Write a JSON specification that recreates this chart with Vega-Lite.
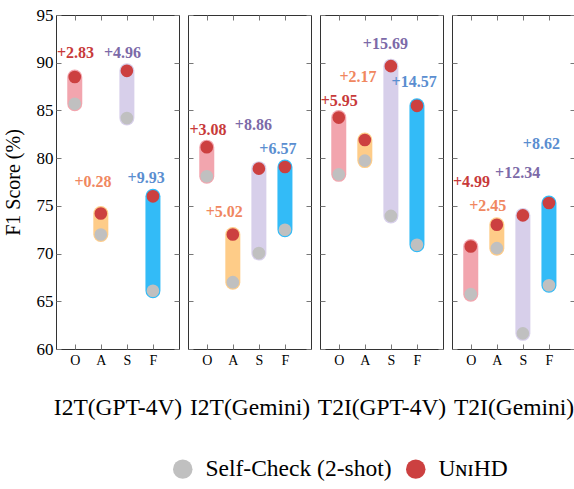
{
  "$schema": "https://vega.github.io/schema/vega-lite/v6.json",
  "padding": {"left": 2, "top": 5, "right": 0, "bottom": 5},
  "bounds": "flush",
  "datasets": {
    "pts": [
      {"panel": "I2T(GPT-4V)", "cat": "O", "idx": 0, "lo": 85.7, "hi": 88.5, "gain": 2.83, "lx": 0.03, "ly": 91.0},
      {"panel": "I2T(GPT-4V)", "cat": "A", "idx": 1, "lo": 72.0, "hi": 74.2, "gain": 0.28, "lx": 0.70, "ly": 77.5},
      {"panel": "I2T(GPT-4V)", "cat": "S", "idx": 2, "lo": 84.2, "hi": 89.15, "gain": 4.96, "lx": 1.83, "ly": 91.0},
      {"panel": "I2T(GPT-4V)", "cat": "F", "idx": 3, "lo": 66.1, "hi": 76.0, "gain": 9.93, "lx": 2.74, "ly": 77.9},
      {"panel": "I2T(Gemini)", "cat": "O", "idx": 0, "lo": 78.1, "hi": 81.15, "gain": 3.08, "lx": 0.05, "ly": 83.0},
      {"panel": "I2T(Gemini)", "cat": "A", "idx": 1, "lo": 67.0, "hi": 72.0, "gain": 5.02, "lx": 0.67, "ly": 74.4},
      {"panel": "I2T(Gemini)", "cat": "S", "idx": 2, "lo": 70.05, "hi": 78.9, "gain": 8.86, "lx": 1.79, "ly": 83.45},
      {"panel": "I2T(Gemini)", "cat": "F", "idx": 3, "lo": 72.5, "hi": 79.07, "gain": 6.57, "lx": 2.73, "ly": 81.0},
      {"panel": "T2I(GPT-4V)", "cat": "O", "idx": 0, "lo": 78.3, "hi": 84.25, "gain": 5.95, "lx": 0.02, "ly": 86.0},
      {"panel": "T2I(GPT-4V)", "cat": "A", "idx": 1, "lo": 79.74, "hi": 81.9, "gain": 2.17, "lx": 0.74, "ly": 88.5},
      {"panel": "T2I(GPT-4V)", "cat": "S", "idx": 2, "lo": 73.95, "hi": 89.64, "gain": 15.69, "lx": 1.79, "ly": 92.0},
      {"panel": "T2I(GPT-4V)", "cat": "F", "idx": 3, "lo": 70.92, "hi": 85.48, "gain": 14.57, "lx": 2.89, "ly": 88.0},
      {"panel": "T2I(Gemini)", "cat": "O", "idx": 0, "lo": 65.75, "hi": 70.74, "gain": 4.99, "lx": 0.03, "ly": 77.5},
      {"panel": "T2I(Gemini)", "cat": "A", "idx": 1, "lo": 70.57, "hi": 73.02, "gain": 2.45, "lx": 0.65, "ly": 75.0},
      {"panel": "T2I(Gemini)", "cat": "S", "idx": 2, "lo": 61.64, "hi": 74.0, "gain": 12.34, "lx": 1.80, "ly": 78.45},
      {"panel": "T2I(Gemini)", "cat": "F", "idx": 3, "lo": 66.68, "hi": 75.3, "gain": 8.62, "lx": 2.71, "ly": 81.45}
    ]
  },
  "data": {"name": "pts"},
  "spacing": 9,
  "hconcat": [
    {
      "width": 123, "height": 334,
      "transform": [{"filter": "datum.panel === 'I2T(GPT-4V)'"}],
      "resolve": {"axis": {"x": "independent", "y": "independent"}},
      "layer": [
        {"mark": {"type": "rule", "strokeWidth": 15, "strokeCap": "round"},
         "encoding": {
           "x": {"field": "idx", "type": "quantitative", "scale": {"domain": [-0.72, 4.0], "nice": false, "zero": false},
                 "axis": {"orient": "bottom", "values": [0, 1, 2, 3], "labelExpr": "['O','A','S','F'][datum.value]", "title": "I2T(GPT-4V)"}},
           "y": {"field": "lo", "type": "quantitative", "scale": {"domain": [60, 95], "nice": false, "zero": false},
                 "axis": {"orient": "left", "values": [60, 65, 70, 75, 80, 85, 90, 95], "labelFontSize": 17, "labelPadding": 3, "title": "F1 Score (%)", "titleFontSize": 20, "titlePadding": 13}},
           "y2": {"field": "hi"},
           "stroke": {"field": "cat", "type": "nominal", "scale": {"domain": ["O", "A", "S", "F"], "range": ["#f2a5ae", "#fecc88", "#d7cfea", "#33bbf7"]}, "legend": null}
         }},
        {"mark": {"type": "point", "filled": true, "size": 160, "opacity": 1, "strokeWidth": 0},
         "encoding": {
           "x": {"field": "idx", "type": "quantitative", "axis": null},
           "y": {"field": "lo", "type": "quantitative", "axis": null},
           "fill": {"datum": "Self-Check (2-shot)", "type": "nominal", "scale": {"domain": ["Self-Check (2-shot)", "UɴɪHD"], "range": ["#c0c0c0", "#cc4040"]}, "legend": {"title": null, "orient": "none", "legendX": 115, "legendY": 442, "direction": "horizontal", "symbolType": "circle", "symbolSize": 380, "labelFontSize": 23.5, "labelLimit": 400, "columnPadding": 12, "labelOffset": 11, "padding": 0, "symbolStrokeWidth": 0}}
         }},
        {"mark": {"type": "point", "filled": true, "size": 160, "opacity": 1, "strokeWidth": 0},
         "encoding": {
           "x": {"field": "idx", "type": "quantitative", "axis": null},
           "y": {"field": "hi", "type": "quantitative", "axis": null},
           "fill": {"datum": "UɴɪHD", "type": "nominal"}
         }},
        {"mark": {"type": "text", "fontWeight": "bold", "fontSize": 16, "baseline": "middle"},
         "encoding": {
           "x": {"field": "lx", "type": "quantitative", "axis": {"orient": "top", "values": [0, 1, 2, 3], "labels": false, "title": null}},
           "y": {"field": "ly", "type": "quantitative", "axis": {"orient": "right", "values": [60, 65, 70, 75, 80, 85, 90, 95], "labels": false, "title": null}},
           "text": {"field": "gain", "type": "quantitative", "format": "+.2f"},
           "color": {"field": "cat", "type": "nominal", "scale": {"domain": ["O", "A", "S", "F"], "range": ["#c83a3a", "#f0875f", "#7c6aa8", "#5a8ed0"]}, "legend": null}
         }}
      ]
    },
    {
      "width": 123, "height": 334,
      "transform": [{"filter": "datum.panel === 'I2T(Gemini)'"}],
      "resolve": {"axis": {"x": "independent", "y": "independent"}},
      "layer": [
        {"mark": {"type": "rule", "strokeWidth": 15, "strokeCap": "round"},
         "encoding": {
           "x": {"field": "idx", "type": "quantitative", "scale": {"domain": [-0.72, 4.0], "nice": false, "zero": false},
                 "axis": {"orient": "bottom", "values": [0, 1, 2, 3], "labelExpr": "['O','A','S','F'][datum.value]", "title": "I2T(Gemini)"}},
           "y": {"field": "lo", "type": "quantitative", "scale": {"domain": [60, 95], "nice": false, "zero": false},
                 "axis": {"orient": "left", "values": [60, 65, 70, 75, 80, 85, 90, 95], "labels": false, "title": null}},
           "y2": {"field": "hi"},
           "stroke": {"field": "cat", "type": "nominal", "scale": {"domain": ["O", "A", "S", "F"], "range": ["#f2a5ae", "#fecc88", "#d7cfea", "#33bbf7"]}, "legend": null}
         }},
        {"mark": {"type": "point", "filled": true, "size": 160, "opacity": 1, "strokeWidth": 0},
         "encoding": {
           "x": {"field": "idx", "type": "quantitative", "axis": null},
           "y": {"field": "lo", "type": "quantitative", "axis": null},
           "fill": {"datum": "Self-Check (2-shot)", "type": "nominal"}
         }},
        {"mark": {"type": "point", "filled": true, "size": 160, "opacity": 1, "strokeWidth": 0},
         "encoding": {
           "x": {"field": "idx", "type": "quantitative", "axis": null},
           "y": {"field": "hi", "type": "quantitative", "axis": null},
           "fill": {"datum": "UɴɪHD", "type": "nominal"}
         }},
        {"mark": {"type": "text", "fontWeight": "bold", "fontSize": 16, "baseline": "middle"},
         "encoding": {
           "x": {"field": "lx", "type": "quantitative", "axis": {"orient": "top", "values": [0, 1, 2, 3], "labels": false, "title": null}},
           "y": {"field": "ly", "type": "quantitative", "axis": {"orient": "right", "values": [60, 65, 70, 75, 80, 85, 90, 95], "labels": false, "title": null}},
           "text": {"field": "gain", "type": "quantitative", "format": "+.2f"},
           "color": {"field": "cat", "type": "nominal", "scale": {"domain": ["O", "A", "S", "F"], "range": ["#c83a3a", "#f0875f", "#7c6aa8", "#5a8ed0"]}, "legend": null}
         }}
      ]
    },
    {
      "width": 123, "height": 334,
      "transform": [{"filter": "datum.panel === 'T2I(GPT-4V)'"}],
      "resolve": {"axis": {"x": "independent", "y": "independent"}},
      "layer": [
        {"mark": {"type": "rule", "strokeWidth": 15, "strokeCap": "round"},
         "encoding": {
           "x": {"field": "idx", "type": "quantitative", "scale": {"domain": [-0.72, 4.0], "nice": false, "zero": false},
                 "axis": {"orient": "bottom", "values": [0, 1, 2, 3], "labelExpr": "['O','A','S','F'][datum.value]", "title": "T2I(GPT-4V)"}},
           "y": {"field": "lo", "type": "quantitative", "scale": {"domain": [60, 95], "nice": false, "zero": false},
                 "axis": {"orient": "left", "values": [60, 65, 70, 75, 80, 85, 90, 95], "labels": false, "title": null}},
           "y2": {"field": "hi"},
           "stroke": {"field": "cat", "type": "nominal", "scale": {"domain": ["O", "A", "S", "F"], "range": ["#f2a5ae", "#fecc88", "#d7cfea", "#33bbf7"]}, "legend": null}
         }},
        {"mark": {"type": "point", "filled": true, "size": 160, "opacity": 1, "strokeWidth": 0},
         "encoding": {
           "x": {"field": "idx", "type": "quantitative", "axis": null},
           "y": {"field": "lo", "type": "quantitative", "axis": null},
           "fill": {"datum": "Self-Check (2-shot)", "type": "nominal"}
         }},
        {"mark": {"type": "point", "filled": true, "size": 160, "opacity": 1, "strokeWidth": 0},
         "encoding": {
           "x": {"field": "idx", "type": "quantitative", "axis": null},
           "y": {"field": "hi", "type": "quantitative", "axis": null},
           "fill": {"datum": "UɴɪHD", "type": "nominal"}
         }},
        {"mark": {"type": "text", "fontWeight": "bold", "fontSize": 16, "baseline": "middle"},
         "encoding": {
           "x": {"field": "lx", "type": "quantitative", "axis": {"orient": "top", "values": [0, 1, 2, 3], "labels": false, "title": null}},
           "y": {"field": "ly", "type": "quantitative", "axis": {"orient": "right", "values": [60, 65, 70, 75, 80, 85, 90, 95], "labels": false, "title": null}},
           "text": {"field": "gain", "type": "quantitative", "format": "+.2f"},
           "color": {"field": "cat", "type": "nominal", "scale": {"domain": ["O", "A", "S", "F"], "range": ["#c83a3a", "#f0875f", "#7c6aa8", "#5a8ed0"]}, "legend": null}
         }}
      ]
    },
    {
      "width": 123, "height": 334,
      "transform": [{"filter": "datum.panel === 'T2I(Gemini)'"}],
      "resolve": {"axis": {"x": "independent", "y": "independent"}},
      "layer": [
        {"mark": {"type": "rule", "strokeWidth": 15, "strokeCap": "round"},
         "encoding": {
           "x": {"field": "idx", "type": "quantitative", "scale": {"domain": [-0.72, 4.0], "nice": false, "zero": false},
                 "axis": {"orient": "bottom", "values": [0, 1, 2, 3], "labelExpr": "['O','A','S','F'][datum.value]", "title": "T2I(Gemini)"}},
           "y": {"field": "lo", "type": "quantitative", "scale": {"domain": [60, 95], "nice": false, "zero": false},
                 "axis": {"orient": "left", "values": [60, 65, 70, 75, 80, 85, 90, 95], "labels": false, "title": null}},
           "y2": {"field": "hi"},
           "stroke": {"field": "cat", "type": "nominal", "scale": {"domain": ["O", "A", "S", "F"], "range": ["#f2a5ae", "#fecc88", "#d7cfea", "#33bbf7"]}, "legend": null}
         }},
        {"mark": {"type": "point", "filled": true, "size": 160, "opacity": 1, "strokeWidth": 0},
         "encoding": {
           "x": {"field": "idx", "type": "quantitative", "axis": null},
           "y": {"field": "lo", "type": "quantitative", "axis": null},
           "fill": {"datum": "Self-Check (2-shot)", "type": "nominal"}
         }},
        {"mark": {"type": "point", "filled": true, "size": 160, "opacity": 1, "strokeWidth": 0},
         "encoding": {
           "x": {"field": "idx", "type": "quantitative", "axis": null},
           "y": {"field": "hi", "type": "quantitative", "axis": null},
           "fill": {"datum": "UɴɪHD", "type": "nominal"}
         }},
        {"mark": {"type": "text", "fontWeight": "bold", "fontSize": 16, "baseline": "middle"},
         "encoding": {
           "x": {"field": "lx", "type": "quantitative", "axis": {"orient": "top", "values": [0, 1, 2, 3], "labels": false, "title": null}},
           "y": {"field": "ly", "type": "quantitative", "axis": {"orient": "right", "values": [60, 65, 70, 75, 80, 85, 90, 95], "labels": false, "title": null}},
           "text": {"field": "gain", "type": "quantitative", "format": "+.2f"},
           "color": {"field": "cat", "type": "nominal", "scale": {"domain": ["O", "A", "S", "F"], "range": ["#c83a3a", "#f0875f", "#7c6aa8", "#5a8ed0"]}, "legend": null}
         }}
      ]
    }
  ],
  "resolve": {"scale": {"fill": "shared"}, "legend": {"fill": "shared"}},
  "config": {
    "font": "Liberation Serif",
    "view": {"stroke": "#333", "strokeWidth": 1},
    "axis": {"labelColor": "#000", "titleColor": "#000", "labelFont": "Liberation Serif", "titleFont": "Liberation Serif", "titleFontWeight": "normal", "tickSize": 5, "offset": -5, "tickColor": "#777", "tickWidth": 1, "domain": false, "grid": false},
    "axisBottom": {"labelFontSize": 14, "labelPadding": 4, "titleFontSize": 23.5, "titlePadding": 28},
    "legend": {"labelFont": "Liberation Serif", "labelColor": "#000"},
    "text": {"font": "Liberation Serif"}
  }
}
